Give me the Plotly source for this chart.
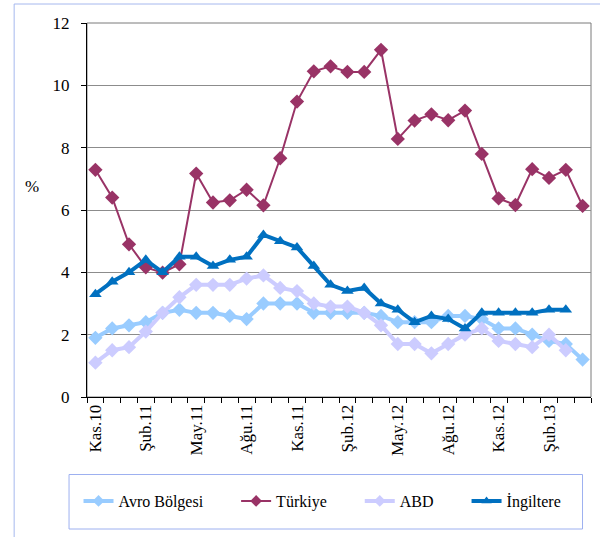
import plotly.graph_objects as go

months = ["Kas.10", "Ara.10", "Oca.11", "Şub.11", "Mar.11", "Nis.11", "May.11", "Haz.11",
          "Tem.11", "Ağu.11", "Eyl.11", "Eki.11", "Kas.11", "Ara.11", "Oca.12", "Şub.12",
          "Mar.12", "Nis.12", "May.12", "Haz.12", "Tem.12", "Ağu.12", "Eyl.12", "Eki.12",
          "Kas.12", "Ara.12", "Oca.13", "Şub.13", "Mar.13", "Nis.13"]
tick_labels = ["Kas.10", "Şub.11", "May.11", "Ağu.11", "Kas.11", "Şub.12",
               "May.12", "Ağu.12", "Kas.12", "Şub.13"]

avro = [1.9, 2.2, 2.3, 2.4, 2.7, 2.8, 2.7, 2.7, 2.6, 2.5, 3.0, 3.0, 3.0, 2.7, 2.7,
        2.7, 2.7, 2.6, 2.4, 2.4, 2.4, 2.6, 2.6, 2.5, 2.2, 2.2, 2.0, 1.8, 1.7, 1.2]
turkiye = [7.29, 6.40, 4.90, 4.16, 3.99, 4.26, 7.17, 6.24, 6.31, 6.65, 6.15, 7.66, 9.48,
           10.45, 10.61, 10.43, 10.43, 11.14, 8.28, 8.87, 9.07, 8.88, 9.19, 7.80, 6.37,
           6.16, 7.31, 7.03, 7.29, 6.13]
abd = [1.1, 1.5, 1.6, 2.1, 2.7, 3.2, 3.6, 3.6, 3.6, 3.8, 3.9, 3.5, 3.4, 3.0, 2.9,
       2.9, 2.7, 2.3, 1.7, 1.7, 1.4, 1.7, 2.0, 2.2, 1.8, 1.7, 1.6, 2.0, 1.5, None]
ingiltere = [3.3, 3.7, 4.0, 4.4, 4.0, 4.5, 4.5, 4.2, 4.4, 4.5, 5.2, 5.0, 4.8, 4.2, 3.6,
             3.4, 3.5, 3.0, 2.8, 2.4, 2.6, 2.5, 2.2, 2.7, 2.7, 2.7, 2.7, 2.8, 2.8, None]
series_names = ["Avro Bölgesi", "Türkiye", "ABD", "İngiltere"]

W, H = 600, 537
L, R, T, B = 86.5, 591.5, 23, 397  # plot area in pixels


def px(x):
    return (x - L) / (R - L)


def py(y):
    return (B - y) / (B - T)


FONT = "Liberation Serif"
PAD = "\u00a0" * 7

fig = go.Figure()
styles = [
    ("#99CCFF", "diamond", 4, 11),
    ("#993366", "diamond", 2, 11),
    ("#CCCCFF", "diamond", 4, 11),
    ("#0070C0", "triangle-up", 4, 11),
]
data = [avro, turkiye, abd, ingiltere]
for name, vals, (col, sym, lw, ms) in zip(series_names, data, styles):
    fig.add_trace(go.Scatter(
        x=months, y=vals, name=name, mode="lines+markers",
        line=dict(color=col, width=lw),
        marker=dict(symbol=sym, size=ms, color=col),
        connectgaps=False, showlegend=False,
    ))
# legend entries (smaller legend symbols as in the original)
for i, (name, (col, sym, lw, ms)) in enumerate(zip(series_names, styles)):
    label = name + (PAD if i < len(series_names) - 1 else "")
    fig.add_trace(go.Scatter(
        x=[None], y=[None], name=label, mode="lines+markers",
        line=dict(color=col, width=lw),
        marker=dict(symbol=sym, size=9, color=col),
        showlegend=True,
    ))

ticktext = [m if m in tick_labels else "" for m in months]

fig.update_layout(
    width=W, height=H,
    margin=dict(l=L, r=W - R, t=T, b=H - B, autoexpand=False),
    paper_bgcolor="white", plot_bgcolor="white",
    font=dict(family=FONT, size=17, color="black"),
    showlegend=True,
    legend=dict(
        orientation="h", x=px(78), xanchor="left",
        y=py(501), yanchor="middle",
        bgcolor="rgba(0,0,0,0)", borderwidth=0,
        font=dict(family=FONT, size=16, color="black"),
        itemsizing="trace",
    ),
    xaxis=dict(
        type="category", tickmode="array", tickvals=months, ticktext=ticktext,
        tickangle=-90, tickson="boundaries", ticks="outside", ticklen=5,
        tickcolor="black", showline=True, linecolor="black", linewidth=1,
        showgrid=False, range=[-0.5, len(months) - 0.5], automargin=False,
        tickfont=dict(family=FONT, size=17, color="black"),
    ),
    yaxis=dict(
        range=[0, 12], dtick=2, ticks="outside", ticklen=5, tickcolor="black",
        showline=True, linecolor="black", linewidth=1,
        showgrid=True, gridcolor="#8c8c8c", gridwidth=1, zeroline=False,
        ticklabelstandoff=8, automargin=False,
        tickfont=dict(family=FONT, size=17, color="black"),
    ),
    shapes=[
        dict(type="rect", xref="paper", yref="paper", x0=0, x1=1, y0=0, y1=1,
             line=dict(color="#7a7a7a", width=1), layer="below"),
        dict(type="rect", xref="paper", yref="paper",
             x0=px(68.5), x1=px(583), y0=py(474.5), y1=py(529),
             line=dict(color="#9DB0F0", width=1), fillcolor="white", layer="below"),
        dict(type="line", xref="paper", yref="paper",
             x0=px(13.5), x1=px(13.5), y0=py(4), y1=py(540),
             line=dict(color="#A6B8EE", width=1)),
        dict(type="line", xref="paper", yref="paper",
             x0=px(13.5), x1=px(605), y0=py(4), y1=py(4),
             line=dict(color="#A6B8EE", width=1)),
    ],
    annotations=[
        dict(text="%", xref="paper", yref="paper", x=px(31), y=py(186),
             showarrow=False, font=dict(family=FONT, size=17, color="black"),
             xanchor="center", yanchor="middle"),
    ],
)

fig.write_html("out.html", config={"displayModeBar": False},
               post_script="document.body.style.margin='0px';document.body.style.padding='0px';")
